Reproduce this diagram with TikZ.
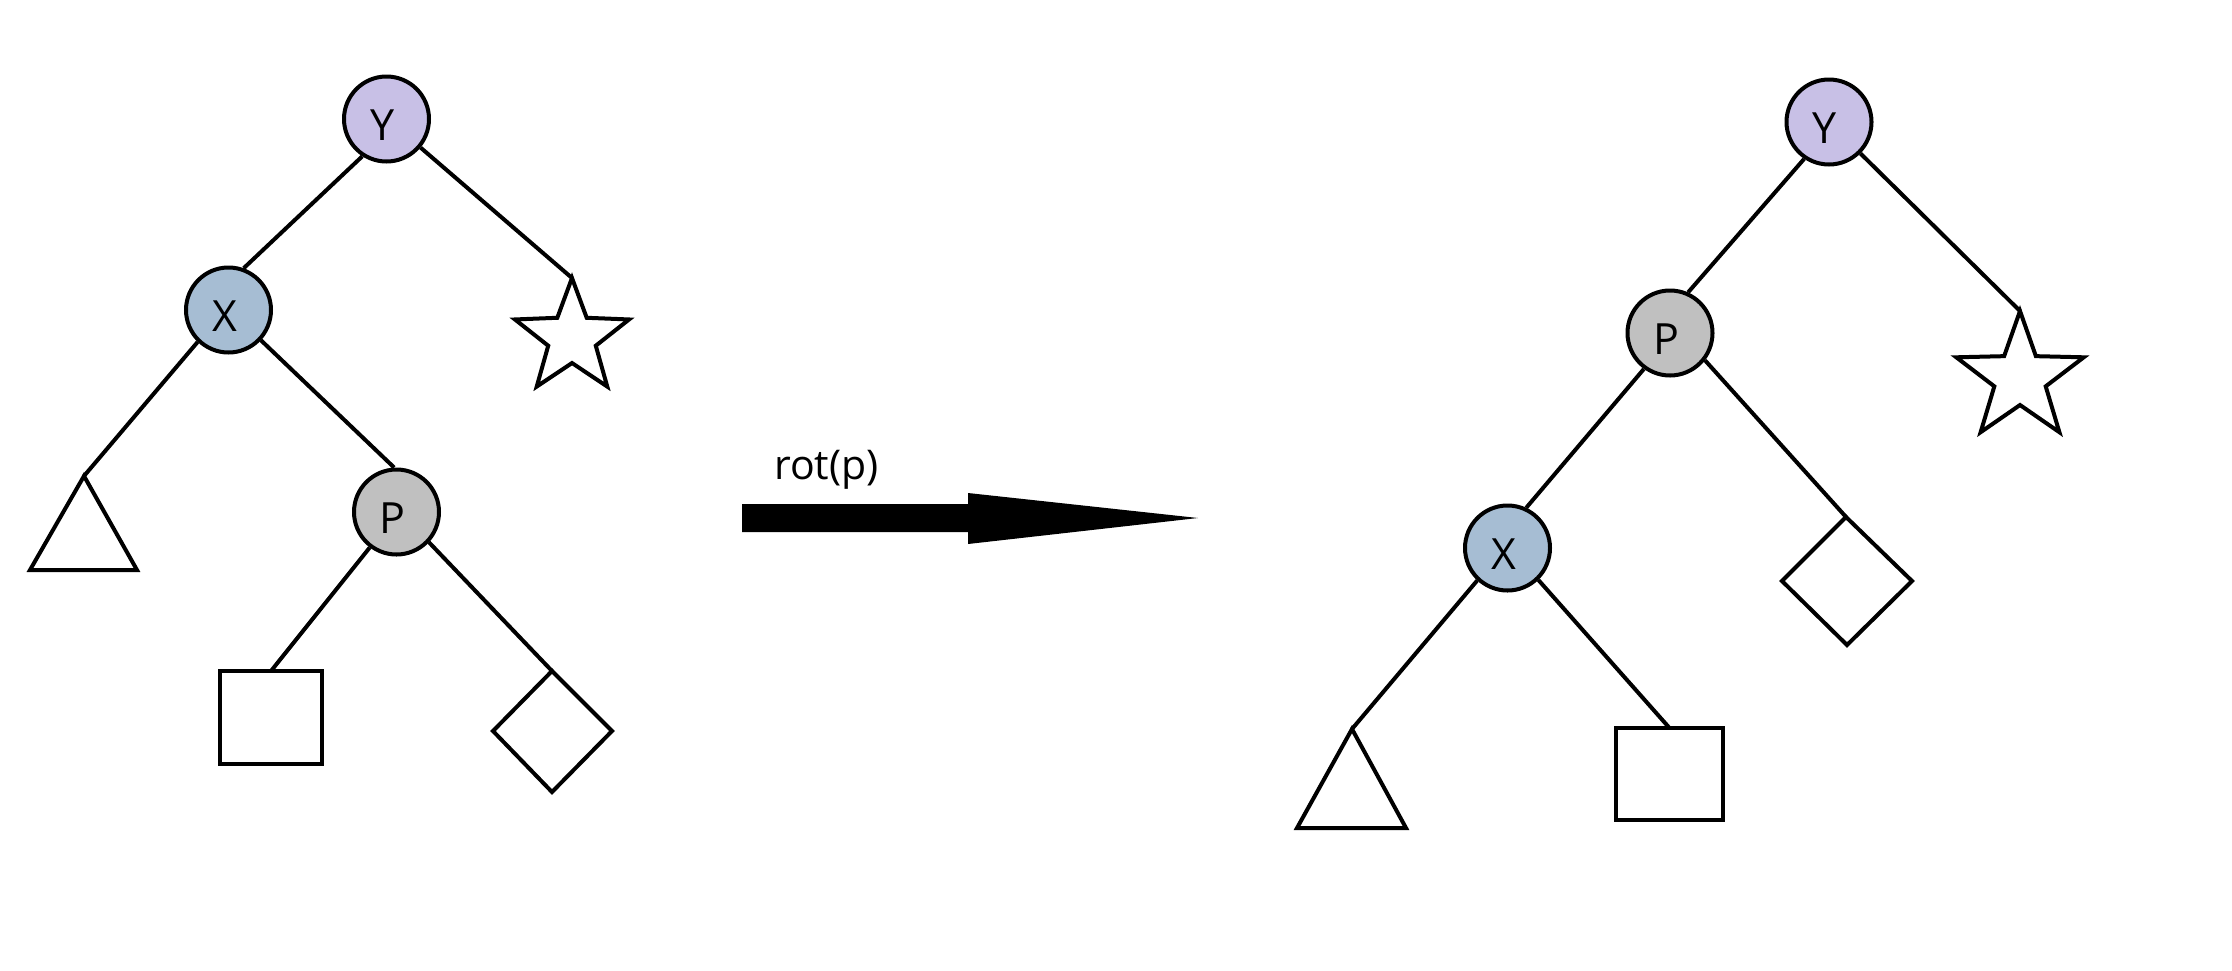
\documentclass[tikz,border=0pt]{standalone}
\usepackage{fontspec}
\setmainfont{Open Sans}
\definecolor{ycol}{RGB}{200,192,230}
\definecolor{xcol}{RGB}{166,189,211}
\definecolor{pcol}{RGB}{192,192,192}
\tikzset{
  tnode/.style={circle, draw=black, line width=4pt, minimum size=85pt, inner sep=0pt,
    font=\fontsize{43pt}{43pt}\selectfont, text height=42.7pt, text depth=0pt},
  edge/.style={line width=4pt, draw=black},
  leaf/.style={draw=black, line width=4pt, fill=white, line join=miter},
  bigarrow/.style={fill=black},
  lbl/.style={font=\fontsize{41pt}{41pt}\selectfont, inner sep=0pt, anchor=base west}
}
\begin{document}
\begin{tikzpicture}[x=1pt,y=-1pt]
\fill[white] (0,0) rectangle (2232,970);
\useasboundingbox (0,0) rectangle (2232,970);

% ---------- left tree ----------
\node[tnode, fill=ycol] (LY) at (386.5,119) {Y\kern8pt};
\node[tnode, fill=xcol] (LX) at (228.5,310) {X\kern8pt};
\node[tnode, fill=pcol] (LP) at (396.5,512) {P\kern8pt};

\begin{scope}[shift={(572,338)}, yscale=-1]
  \draw[leaf] (90:60) -- (126:25) -- (162:60) -- (198:25) -- (234:60) -- (270:25)
     -- (306:60) -- (342:25) -- (18:60) -- (54:25) -- cycle;
  \coordinate (LS) at (90:60);
\end{scope}
\draw[leaf] (84,476) -- (30,570) -- (137,570) -- cycle;
\coordinate (LT) at (84,476);
\draw[leaf] (220,671) rectangle (322,764);
\coordinate (LQ) at (271,671);
\draw[leaf] (552,671) -- (612,731) -- (552,792) -- (493,731) -- cycle;
\coordinate (LD) at (552,671);

\draw[edge] (LY.237) -- (LX.70);
\draw[edge] (LY.320) -- (LS);
\draw[edge] (LX.226) -- (LT);
\draw[edge] (LX.317) -- (LP.93);
\draw[edge] (LP.233) -- (LQ);
\draw[edge] (LP.317) -- (LD);

% ---------- arrow ----------
\coordinate (A0) at (742,518);
\coordinate (A1) at (1198,518);
\fill[bigarrow] (742,504) -- (968,504) -- (968,493) -- (A1) -- (968,544) -- (968,532) -- (742,532) -- cycle;
\node[lbl] (rot) at (774,479) {rot(p)};

% ---------- right tree ----------
\node[tnode, fill=ycol] (RY) at (1829,122) {Y\kern8pt};
\node[tnode, fill=pcol] (RP) at (1670,333) {P\kern8pt};
\node[tnode, fill=xcol] (RX) at (1507.5,548) {X\kern8pt};

\begin{scope}[shift={(2020,378)}, yscale=-1]
  \draw[leaf] (90:67) -- (126:27) -- (162:67) -- (198:27) -- (234:67) -- (270:27)
     -- (306:67) -- (342:27) -- (18:67) -- (54:27) -- cycle;
  \coordinate (RS) at (90:67);
\end{scope}
\draw[leaf] (1846,517) -- (1912,581) -- (1847,645) -- (1782,581) -- cycle;
\coordinate (RD) at (1846,517);
\draw[leaf] (1352,729) -- (1297,828) -- (1406,828) -- cycle;
\coordinate (RT) at (1352,729);
\draw[leaf] (1616,728) rectangle (1723,820);
\coordinate (RQ) at (1669.5,728);

\draw[edge] (RY.236) -- (RP.66);
\draw[edge] (RY.315) -- (RS);
\draw[edge] (RP.234) -- (RX.65);
\draw[edge] (RP.322) -- (RD);
\draw[edge] (RX.227) -- (RT);
\draw[edge] (RX.314) -- (RQ);
\end{tikzpicture}
\end{document}
